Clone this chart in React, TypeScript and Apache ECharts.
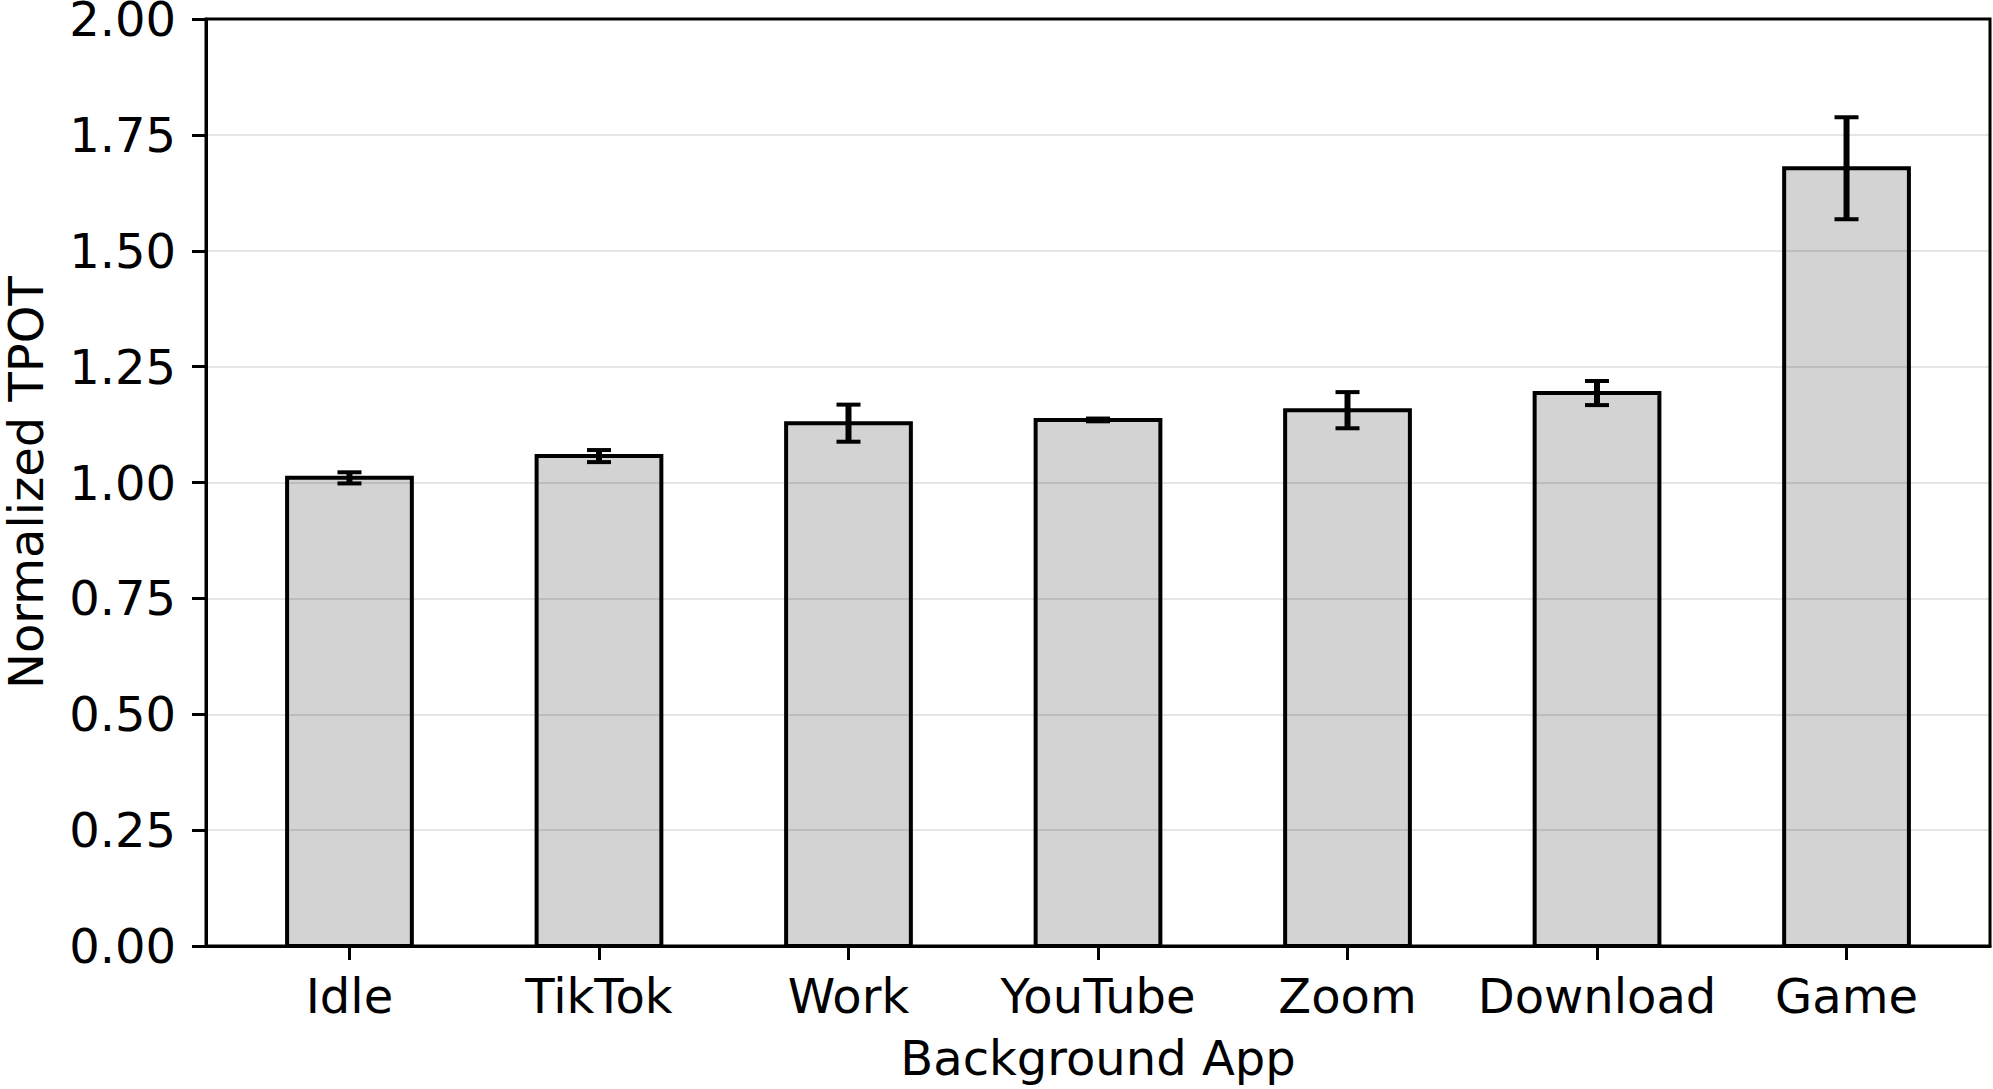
import React, { useEffect, useRef } from "react";
import * as echarts from "echarts";

const categories = ["Idle", "TikTok", "Work", "YouTube", "Zoom", "Download", "Game"];
const values = [1.01, 1.057, 1.128, 1.135, 1.156, 1.193, 1.678];
const errors = [0.012, 0.013, 0.04, 0.003, 0.039, 0.026, 0.11];

const FONT = "DejaVu Sans";

export default function App() {
  const ref = useRef<HTMLDivElement>(null);
  useEffect(() => {
    document.body.style.margin = "0";
    const chart = echarts.init(ref.current!, null, { renderer: "svg" });
    const idx = categories.map((_, i) => i);
    chart.setOption({
      animation: false,
      backgroundColor: "#ffffff",
      grid: {
        left: 206,
        right: 3,
        top: 19,
        bottom: 143,
        containLabel: false,
        outerBoundsMode: "none",
        show: true,
        borderColor: "#000",
        borderWidth: 3,
        backgroundColor: "transparent",
        z: 5,
      },
      xAxis: {
        type: "value",
        min: -0.575,
        max: 6.575,
        name: "Background App",
        nameLocation: "middle",
        nameGap: 88,
        nameTextStyle: { fontFamily: FONT, fontSize: 48, color: "#000" },
        axisLine: { show: true, onZero: false, lineStyle: { color: "#000", width: 3 } },
        axisTick: {
          show: true,
          customValues: idx,
          length: 14,
          lineStyle: { color: "#000", width: 3 },
        },
        axisLabel: {
          customValues: idx,
          formatter: (v: number) => categories[Math.round(v)] ?? "",
          fontFamily: FONT,
          fontSize: 48,
          color: "#000",
          margin: 26,
        },
        splitLine: { show: false },
      },
      yAxis: {
        type: "value",
        min: 0,
        max: 2,
        interval: 0.25,
        z: 3,
        name: "Normalized TPOT",
        nameLocation: "middle",
        nameGap: 156,
        nameTextStyle: { fontFamily: FONT, fontSize: 48, color: "#000" },
        axisLine: { show: true, onZero: false, lineStyle: { color: "#000", width: 3 } },
        axisTick: { show: true, length: 14, lineStyle: { color: "#000", width: 3 } },
        axisLabel: {
          formatter: (v: number) => v.toFixed(2),
          fontFamily: FONT,
          fontSize: 48,
          color: "#000",
          margin: 30,
        },
        splitLine: { show: true, lineStyle: { color: "rgba(0,0,0,0.1)", width: 2 } },
      },
      series: [
        {
          type: "custom",
          z: 2,
          data: values.map((v, i) => [i, v]),
          renderItem: (params: any, api: any) => {
            const x = api.value(0);
            const y = api.value(1);
            const p0 = api.coord([x - 0.25, y]);
            const p1 = api.coord([x + 0.25, 0]);
            return {
              type: "rect",
              shape: { x: p0[0], y: p0[1], width: p1[0] - p0[0], height: p1[1] - p0[1] },
              style: { fill: "#d3d3d3", stroke: "#000", lineWidth: 4 },
            };
          },
        },
        {
          type: "custom",
          z: 6,
          data: values.map((v, i) => [i, v, errors[i]]),
          renderItem: (params: any, api: any) => {
            const x = api.value(0);
            const y = api.value(1);
            const e = api.value(2);
            const top = api.coord([x, y + e]);
            const bot = api.coord([x, y - e]);
            const cap = 12;
            return {
              type: "group",
              children: [
                {
                  type: "line",
                  shape: { x1: top[0], y1: top[1], x2: bot[0], y2: bot[1] },
                  style: { stroke: "#000", lineWidth: 6 },
                },
                {
                  type: "line",
                  shape: { x1: top[0] - cap, y1: top[1], x2: top[0] + cap, y2: top[1] },
                  style: { stroke: "#000", lineWidth: 4 },
                },
                {
                  type: "line",
                  shape: { x1: bot[0] - cap, y1: bot[1], x2: bot[0] + cap, y2: bot[1] },
                  style: { stroke: "#000", lineWidth: 4 },
                },
              ],
            };
          },
        },
      ],
    });
    return () => chart.dispose();
  }, []);
  return (
    <div
      ref={ref}
      style={{ position: "fixed", left: 0, top: 0, width: 1993, height: 1089 }}
    />
  );
}
